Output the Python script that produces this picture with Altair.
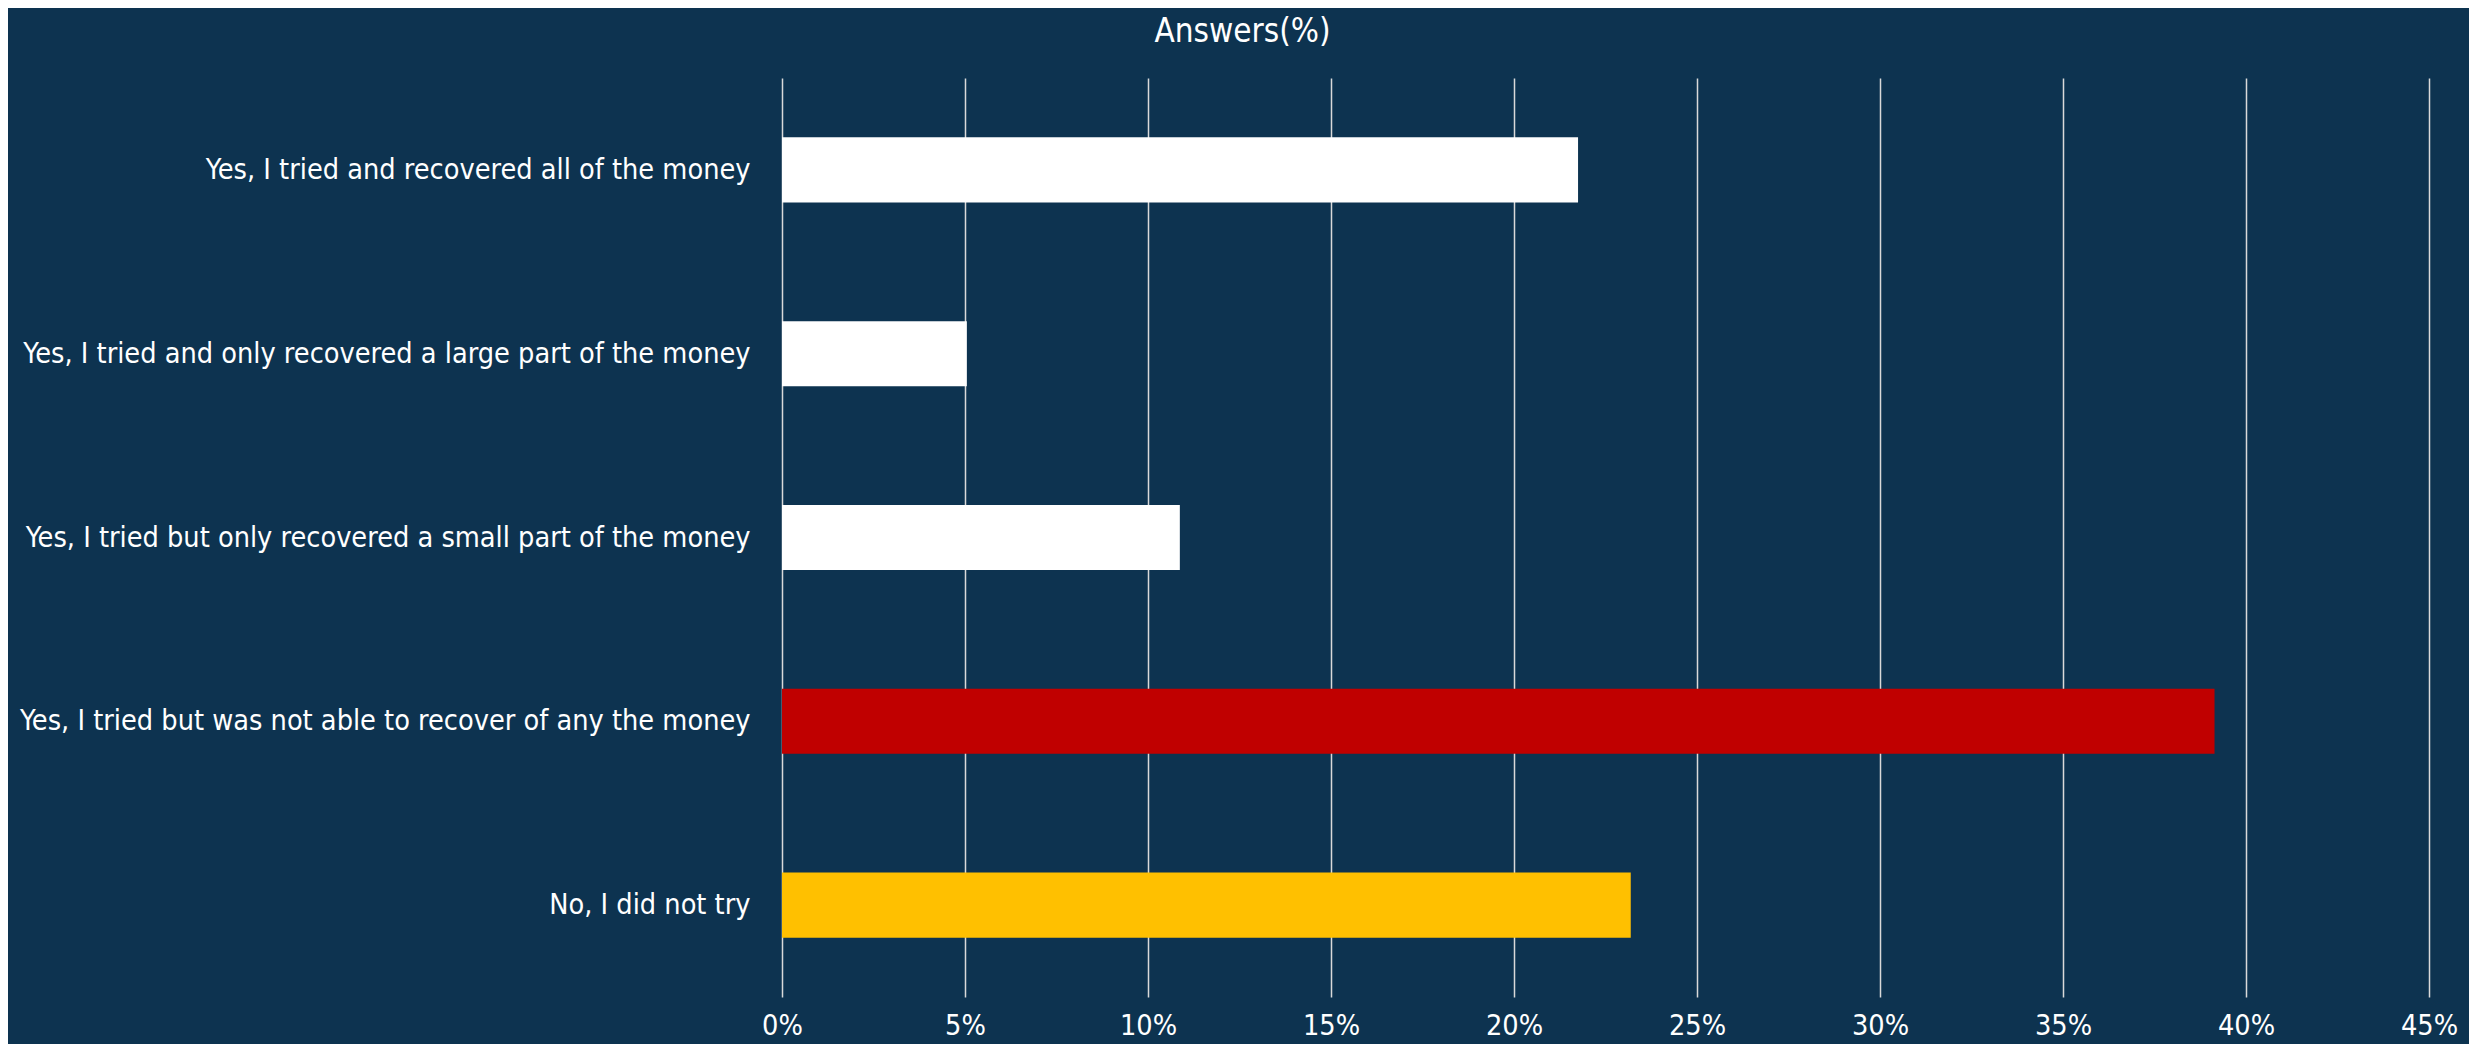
import altair as alt
import pandas as pd

categories = [
    "Yes, I tried and recovered all of the money",
    "Yes, I tried and only recovered a large part of the money",
    "Yes, I tried but only recovered a small part of the money",
    "Yes, I tried but was not able to recover of any the money",
    "No, I did not try",
]
answers_pct = [21.75, 5.05, 10.87, 39.14, 23.19]
bar_colors = ["#FFFFFF", "#FFFFFF", "#FFFFFF", "#C00000", "#FFC000"]
x_ticks = [0, 5, 10, 15, 20, 25, 30, 35, 40, 45]
title_text = ["Answers(%)"]

df = pd.DataFrame({"answer": categories, "pct": answers_pct})
title_df = pd.DataFrame({"t": title_text})

FONT = "Liberation Sans Narrow, DejaVu Sans Condensed, Lato"
BG = "#0D3350"
LBL = 28.6

bars = alt.Chart(df).mark_bar().encode(
    y=alt.Y(
        "answer:N",
        sort=categories,
        scale=alt.Scale(paddingInner=0.646, paddingOuter=0.323),
        axis=alt.Axis(
            title=None, labelLimit=0, labelPadding=32, ticks=False, domain=False,
            labelFontSize=LBL, labelColor="white", labelFont=FONT,
        ),
    ),
    x=alt.X(
        "pct:Q",
        scale=alt.Scale(domain=[0, 45], nice=False),
        axis=alt.Axis(
            values=x_ticks, labelExpr="datum.value + '%'", title=None,
            grid=True, gridColor="#D9D9D9", gridWidth=1.5, ticks=False, domain=False,
            labelFlush=False, labelBaseline="alphabetic", labelPadding=37,
            labelFontSize=LBL, labelColor="white", labelFont=FONT,
        ),
    ),
    color=alt.Color("answer:N", scale=alt.Scale(domain=categories, range=bar_colors), legend=None),
)

title = alt.Chart(title_df).mark_text(
    color="white", fontSize=33, font=FONT, baseline="alphabetic", align="center",
).encode(
    text="t:N",
    x=alt.value(460.5),
    y=alt.value(-36),
)

chart = alt.layer(bars, title).properties(
    width=1647,
    height=919,
    background=BG,
    padding={"left": 774, "top": 70, "right": 40, "bottom": 47},
    autosize=alt.AutoSizeParams(type="none"),
).configure_view(stroke=None)

chart.save("out.html", embed_options={"renderer": "svg", "actions": False})
